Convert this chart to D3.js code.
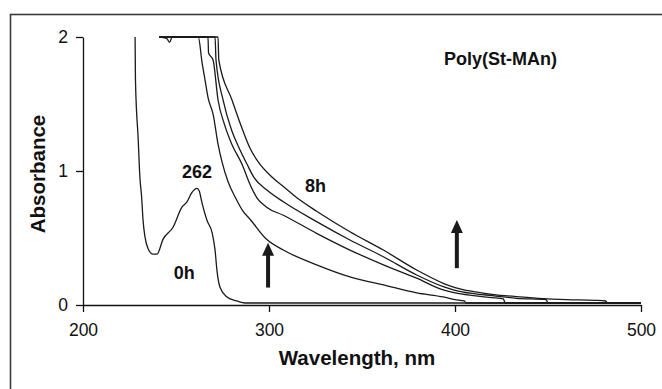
<!DOCTYPE html>
<html>
<head>
<meta charset="utf-8">
<script src="https://cdn.jsdelivr.net/npm/d3@7"></script>
<style>
    body { margin: 0; background: #fff; }
    svg text { font-family: "Liberation Sans", Arial, sans-serif; fill: #111; }
</style>
</head>
<body>
<div id="chart"></div>
<script>
// spectra: [wavelength nm, absorbance]
var spec0h = [[228,2.0],[228.2,1.68],[229.7,1.23],[230.6,0.95],[231.5,0.81],[232.3,0.63],[233.3,0.51],
    [235,0.42],[237.6,0.38],[239.8,0.38],[243,0.49],[248.4,0.58],[253.2,0.73],[255.9,0.77],[258.6,0.84],
    [261.3,0.87],[262.5,0.85],[264,0.76],[266.7,0.63],[269.4,0.54],[271,0.41],[272,0.26],[273.7,0.13],
    [277.4,0.06],[282.8,0.03],[287,0.015],[500,0.015]];
var specB = [[241,2.0],[245,1.99],[246.5,1.96],[248,2.0],[262,2.0],[264,1.81],[265.6,1.68],[267.2,1.55],
    [270,1.42],[272.6,1.2],[274.7,1.07],[278,0.92],[282,0.8],[286,0.7],[289.8,0.64],[298.7,0.49],
    [307.7,0.41],[325.6,0.3],[343.5,0.21],[361.5,0.15],[379.4,0.09],[393.7,0.06],[400,0.04],[405,0.03],
    [406,0.015],[500,0.015]];
var specC = [[241,2.0],[267.2,2.0],[267.5,1.88],[269.9,1.83],[272.6,1.53],[276,1.35],[280,1.2],
    [285.5,1.05],[289.8,0.9],[293.5,0.8],[298.7,0.73],[307.7,0.67],[325.6,0.535],[343.5,0.41],
    [361.5,0.3],[379.4,0.2],[393.7,0.112],[400,0.09],[410,0.07],[420,0.055],[426,0.045],[427,0.015],
    [500,0.015]];
var specD = [[241,2.0],[271,2.0],[271.5,1.83],[275.3,1.53],[280,1.3],[284,1.17],[288.2,1.05],[292,0.95],
    [298.7,0.86],[307.7,0.77],[325.6,0.622],[343.5,0.485],[361.5,0.36],[379.4,0.224],[393.7,0.137],
    [400,0.11],[410,0.085],[420,0.07],[433,0.05],[449,0.04],[450,0.015],[500,0.015]];
var spec8h = [[241,2.0],[272.6,2.0],[273,1.83],[280.1,1.53],[286,1.3],[289.8,1.17],[294.1,1.07],
    [302,0.95],[307.7,0.885],[315,0.8],[325.6,0.7],[343.5,0.547],[361.5,0.41],[379.4,0.261],
    [393.7,0.162],[400,0.13],[410,0.1],[420,0.08],[433,0.062],[445,0.05],[460,0.04],[475,0.035],
    [481,0.03],[482,0.015],[500,0.015]];

var xTicks = [200, 300, 400, 500];
var yTicks = [0, 1, 2];

var W = 662, H = 389;

var svg = d3.select("#chart").append("svg")
    .attr("width", W)
    .attr("height", H);

// outer frame, cut off at right and bottom like the scan
svg.append("rect")
    .attr("x", 10.5).attr("y", 14.5)
    .attr("width", 700).attr("height", 420)
    .style("fill", "none")
    .style("stroke", "#3a3a3a")
    .style("stroke-width", 1.6);

var x = d3.scaleLinear().domain([200, 500]).range([83, 641]);
var y = d3.scaleLinear().domain([0, 2]).range([305, 37]);

svg.append("clipPath").attr("id", "plotclip")
    .append("rect")
    .attr("x", x(200)).attr("y", y(2) - 1)
    .attr("width", x(500) - x(200)).attr("height", y(0) - y(2) + 1);

var xAxis = svg.append("g")
    .attr("transform", "translate(0," + y(0) + ")")
    .call(d3.axisBottom(x).tickValues(xTicks).tickSize(7).tickSizeOuter(0).tickPadding(12));
var yAxis = svg.append("g")
    .attr("transform", "translate(" + x(200) + ",0)")
    .call(d3.axisLeft(y).tickValues(yTicks).tickFormat(d3.format("d")).tickSize(7).tickSizeOuter(0).tickPadding(8));

[xAxis, yAxis].forEach(function(g){
    g.selectAll("path, line").style("stroke", "#111").style("stroke-width", 1.3);
    g.selectAll("text").style("font-size", "17.5px")
        .style("font-family", "'Liberation Sans', Arial, sans-serif").style("fill", "#111");
});

var line = d3.line()
    .x(function(d){ return x(d[0]); })
    .y(function(d){ return y(d[1]); })
    .curve(d3.curveMonotoneX);

var plot = svg.append("g").attr("clip-path", "url(#plotclip)");
[spec0h, specB, specC, specD, spec8h].forEach(function(s){
    plot.append("path")
        .datum(s)
        .attr("d", line)
        .style("fill", "none")
        .style("stroke", "#1a1a1a")
        .style("stroke-width", 1.3);
});

// axis titles
svg.append("text")
    .attr("x", 357).attr("y", 365)
    .attr("text-anchor", "middle")
    .style("font-size", "20.5px").style("font-weight", "bold")
    .text("Wavelength, nm");

svg.append("text")
    .attr("transform", "translate(45,174) rotate(-90)")
    .attr("text-anchor", "middle")
    .style("font-size", "20.5px").style("font-weight", "bold")
    .text("Absorbance");

// annotations, placed in data units
var notes = [
    {t: "Poly(St-MAn)", wl: 424.5, a: 1.79, size: 18},
    {t: "262", wl: 261.3, a: 0.95, size: 18},
    {t: "8h", wl: 325, a: 0.84, size: 18},
    {t: "0h", wl: 254.5, a: 0.195, size: 18}
];
svg.selectAll("text.note").data(notes).enter().append("text")
    .attr("class", "note")
    .attr("x", function(d){ return x(d.wl); })
    .attr("y", function(d){ return y(d.a); })
    .attr("text-anchor", "middle")
    .style("font-size", function(d){ return d.size + "px"; })
    .style("font-weight", "bold")
    .text(function(d){ return d.t; });

var arrows = [
    {wl: 299.5, a0: 0.13, a1: 0.465},
    {wl: 401, a0: 0.275, a1: 0.635}
];
arrows.forEach(function(ar){
    var cx = x(ar.wl), yb = y(ar.a0), yt = y(ar.a1);
    svg.append("line")
        .attr("x1", cx).attr("x2", cx)
        .attr("y1", yb).attr("y2", yt + 10)
        .style("stroke", "#1a1a1a")
        .style("stroke-width", 4);
    svg.append("path")
        .attr("d", "M" + cx + "," + yt + "L" + (cx + 6) + "," + (yt + 13) + "L" + (cx - 6) + "," + (yt + 13) + "Z")
        .style("fill", "#1a1a1a");
});
</script>
</body>
</html>
